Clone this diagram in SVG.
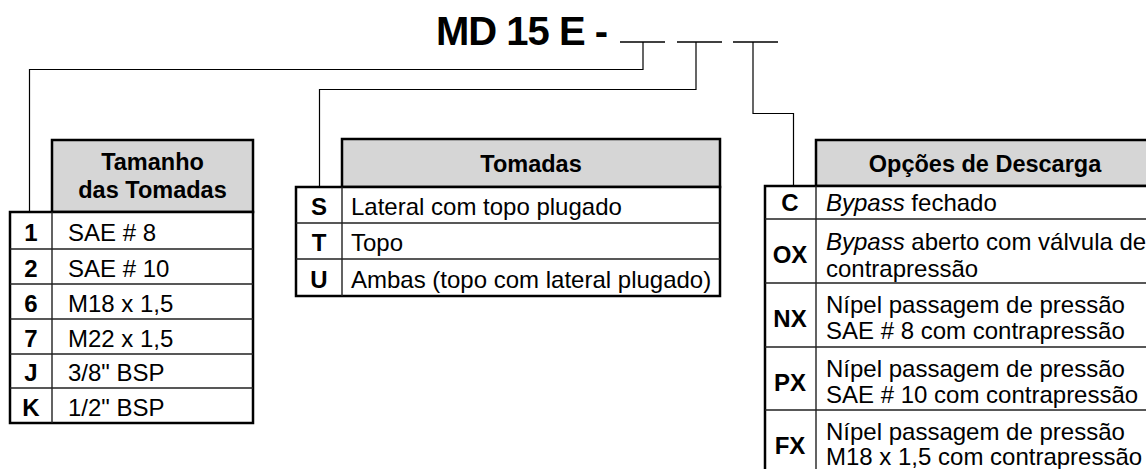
<svg xmlns="http://www.w3.org/2000/svg" width="1146" height="469" viewBox="0 0 1146 469">
<style>
text{font-family:"Liberation Sans",Arial,Helvetica,sans-serif;fill:#000}
.t{font-size:24px}
.b{font-size:24px;font-weight:bold}
.h{font-size:23.5px;font-weight:bold;text-anchor:middle}
.c{text-anchor:middle}
.hdr{fill:#d6d6d6;stroke:#000;stroke-width:2.5}
.box{fill:#fff;stroke:#000;stroke-width:2.5}
.row{stroke:#222;stroke-width:1.4;fill:none}
.conn{stroke:#000;stroke-width:1.2;fill:none}
.us{stroke:#000;stroke-width:1.6}
</style>
<rect width="1146" height="469" fill="#fff"/>
<g id="title">
<text x="436" y="45" style="font-size:40px;font-weight:bold;letter-spacing:-1px">MD 15 E -</text>
<line class="us" x1="620" y1="42" x2="665" y2="42"/>
<line class="us" x1="677" y1="42" x2="722" y2="42"/>
<line class="us" x1="733" y1="42" x2="778" y2="42"/>
</g>
<g id="connectors">
<polyline class="conn" points="643,42 643,69.5 29.5,69.5 29.5,212"/>
<polyline class="conn" points="696,42 696,89.5 319.5,89.5 319.5,187"/>
<polyline class="conn" points="753,42 753,113.5 793.5,113.5 793.5,186"/>
</g>
<g id="tamanho">
<rect class="hdr" x="52" y="140" width="201" height="72"/>
<text class="h" x="152.5" y="170">Tamanho</text>
<text class="h" x="152.5" y="198">das Tomadas</text>
<rect class="box" x="10" y="212" width="243" height="211"/>
<path class="row" d="M52 212V423M10 249H253M10 284H253M10 319H253M10 354H253M10 388H253"/>
<text class="b c" x="31" y="241">1</text><text class="t" x="68" y="241">SAE # 8</text>
<text class="b c" x="31" y="277">2</text><text class="t" x="68" y="277">SAE # 10</text>
<text class="b c" x="31" y="312">6</text><text class="t" x="68" y="312">M18 x 1,5</text>
<text class="b c" x="31" y="347">7</text><text class="t" x="68" y="347">M22 x 1,5</text>
<text class="b c" x="31" y="381">J</text><text class="t" x="68" y="381">3/8" BSP</text>
<text class="b c" x="31" y="416">K</text><text class="t" x="68" y="416">1/2" BSP</text>
</g>
<g id="tomadas">
<rect class="hdr" x="342" y="139" width="378" height="48"/>
<text class="h" x="531" y="172">Tomadas</text>
<rect class="box" x="296" y="187" width="424" height="109"/>
<path class="row" d="M342 187V296M296 223H720M296 259H720"/>
<text class="b c" x="319" y="215">S</text><text class="t" x="351" y="215">Lateral com topo plugado</text>
<text class="b c" x="319" y="251">T</text><text class="t" x="351" y="251">Topo</text>
<text class="b c" x="319" y="288">U</text><text class="t" x="351" y="288">Ambas (topo com lateral plugado)</text>
</g>
<g id="descarga">
<rect class="hdr" x="816" y="140" width="340" height="46"/>
<text class="h" x="985" y="172">Opções de Descarga</text>
<rect class="box" x="765" y="186" width="391" height="300"/>
<path class="row" d="M816 186V480M765 219H1150M765 283H1150M765 347H1150M765 410H1150"/>
<text class="b c" x="790" y="211">C</text><text class="t" x="826" y="211"><tspan font-style="italic">Bypass</tspan> fechado</text>
<text class="b c" x="790" y="263">OX</text><text class="t" x="826" y="250"><tspan font-style="italic">Bypass</tspan> aberto com válvula de</text><text class="t" x="826" y="277">contrapressão</text>
<text class="b c" x="790" y="327">NX</text><text class="t" x="826" y="313">Nípel passagem de pressão</text><text class="t" x="826" y="339">SAE # 8 com contrapressão</text>
<text class="b c" x="790" y="391">PX</text><text class="t" x="826" y="377">Nípel passagem de pressão</text><text class="t" x="826" y="403">SAE # 10 com contrapressão</text>
<text class="b c" x="790" y="454">FX</text><text class="t" x="826" y="440">Nípel passagem de pressão</text><text class="t" x="826" y="465">M18 x 1,5 com contrapressão</text>
</g>
</svg>
